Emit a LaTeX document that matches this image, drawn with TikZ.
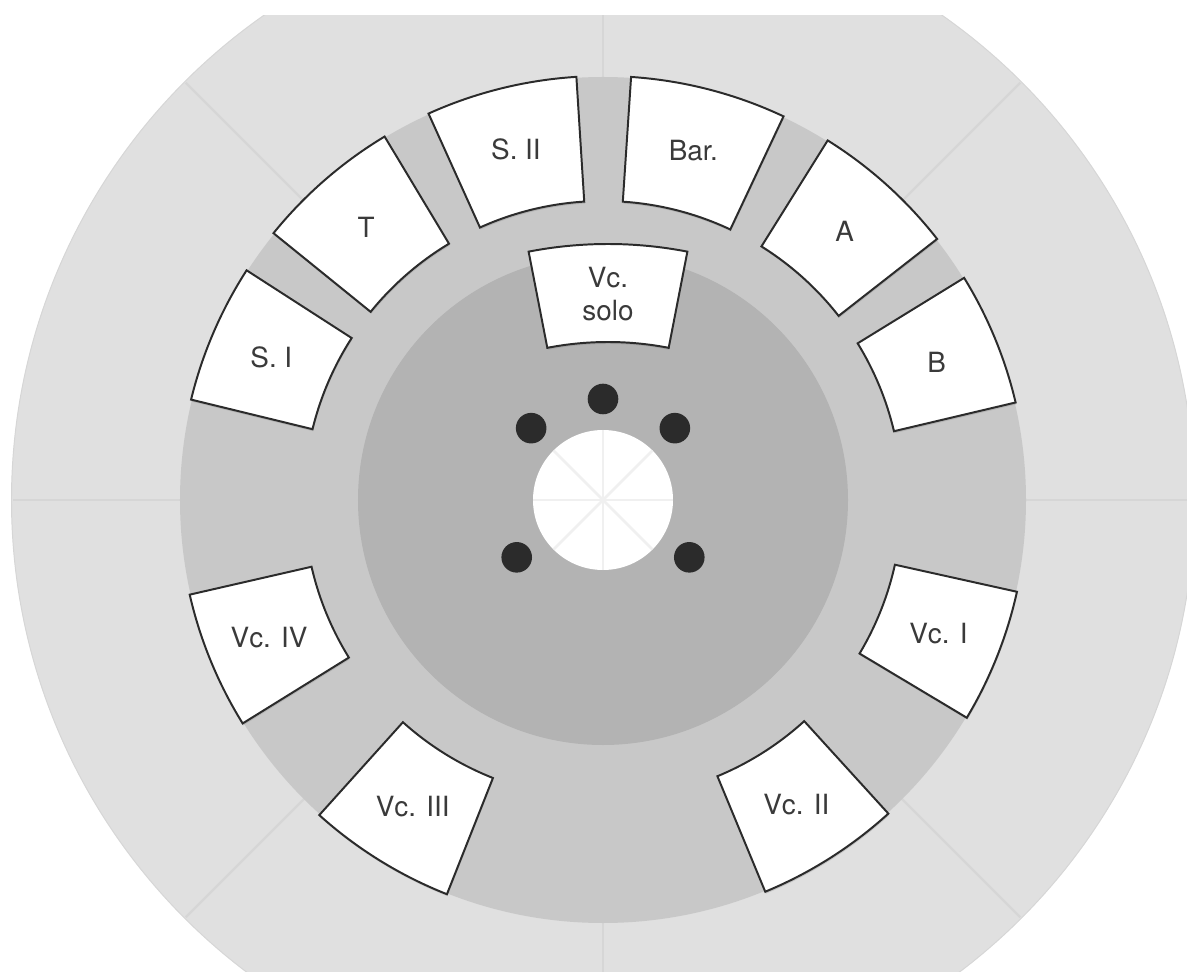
\documentclass[tikz,border=0pt]{standalone}
\usepackage{fontspec}
\setmainfont{TeX Gyre Heros}
\usetikzlibrary{shadows}
\definecolor{ringout}{HTML}{E0E0E0}
\definecolor{ringmid}{HTML}{C8C8C8}
\definecolor{ringin}{HTML}{B3B3B3}
\definecolor{spokeout}{HTML}{D6D6D6}
\definecolor{spokein}{HTML}{F0F0F0}
\definecolor{seatline}{HTML}{2B2B2B}
\definecolor{seattext}{HTML}{3A3A3A}
\tikzset{
  seat/.style={fill=white, draw=seatline, line width=1.4pt,
    drop shadow={shadow xshift=0.4pt, shadow yshift=-1.4pt, opacity=0.3}},
  seatlabel/.style={text=seattext, align=center,
    font=\fontsize{19.8}{23}\selectfont},
  dot/.style={fill=seatline}
}
\begin{document}
\begin{tikzpicture}[x=0.025cm, y=0.025cm]
  \useasboundingbox (-603,-471) rectangle (584,500);
  % 外圈
  \begin{scope}
    \clip (-603,-471) rectangle (584,484);
    \filldraw[fill=ringout, draw=spokeout, line width=0.7pt] (0,0) circle (591.5);
    \foreach \a in {0,45,...,315}
      \draw[spokeout, line width=1.6pt] (\a:420) -- (\a:590);
  \end{scope}
  % 中圈和内圈
  \fill[ringmid] (0,0) circle (423);
  \fill[ringin] (0,0) circle (245);
  % 中心
  \fill[white] (0,0) circle (70);
  \foreach \a in {0,45,...,315}
    \draw[spokein, line width=2pt] (0,0) -- (\a:70);
  % 五个点
  \fill[dot] (90:101) circle (15.3);
  \fill[dot] (45:101.6) circle (15.3);
  \fill[dot] (135:101.6) circle (15.3);
  \fill[dot] (213.6:103.6) circle (15.3);
  \fill[dot] (-33.6:103.6) circle (15.3);
  % 座位
  \foreach \s/\e/\n/\t in {13.3/31.6/b/B, 38/58/a/A, 64.8/86.2/bar/Bar.,
      93.6/114.3/s2/S. II, 121/141/t/T, 147.2/166.3/s1/S. I,
      192.9/211.8/vc4/Vc. IV, 228/248.4/vc3/Vc. III,
      292.5/312.3/vc2/Vc. II, 329.1/347.5/vc1/Vc. I} {
    \filldraw[seat] (\s:299) arc[start angle=\s, end angle=\e, radius=299]
      -- (\e:424) arc[start angle=\e, end angle=\s, radius=424] -- cycle;
    \node[seatlabel] (\n) at ({(\s+\e)/2}:361) {\t};
  }
  % 独奏
  \begin{scope}[shift={(5,-160)}]
    \filldraw[seat] (79:318) arc[start angle=79, end angle=101, radius=318]
      -- (101:416) arc[start angle=101, end angle=79, radius=416] -- cycle;
    \node[seatlabel] (vcsolo) at (90:366) {Vc.\\solo};
  \end{scope}
\end{tikzpicture}
\end{document}
